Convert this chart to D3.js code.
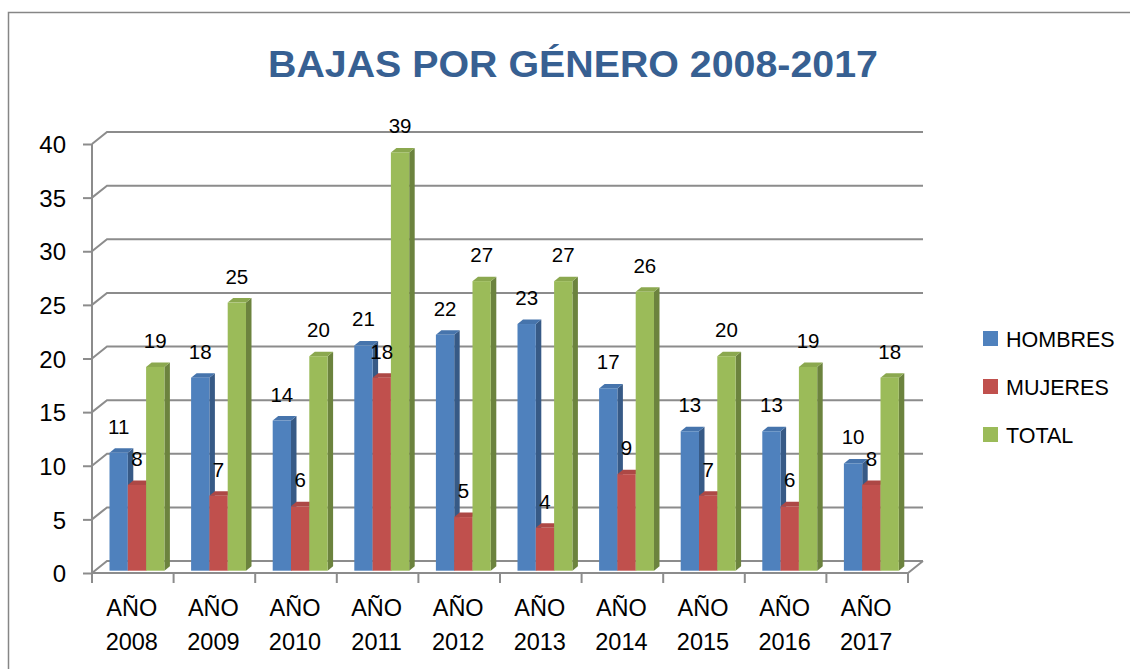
<!DOCTYPE html>
<html>
<head>
<meta charset="utf-8">
<script src="https://cdn.jsdelivr.net/npm/d3@7"></script>
<style>
  html, body { margin: 0; padding: 0; background: #fff; }
  svg { display: block; }
  text { font-family: "Liberation Sans", Arial, sans-serif; }
</style>
</head>
<body>
<svg id="chart" width="1130" height="669"></svg>
<script>
const categories = ["AÑO 2008","AÑO 2009","AÑO 2010","AÑO 2011","AÑO 2012","AÑO 2013","AÑO 2014","AÑO 2015","AÑO 2016","AÑO 2017"];
const seriesNames = ["HOMBRES","MUJERES","TOTAL"];
const hombres = [11, 18, 14, 21, 22, 23, 17, 13, 13, 10];
const mujeres = [8, 7, 6, 18, 5, 4, 9, 7, 6, 8];
const total   = [19, 25, 20, 39, 27, 27, 26, 20, 19, 18];
const yTicks  = [0, 5, 10, 15, 20, 25, 30, 35, 40];
const title   = "BAJAS POR GÉNERO 2008-2017";

const seriesValues = [hombres, mujeres, total];
const colors = {
  front: ["#4F81BD", "#C0504D", "#9BBB59"],
  top:   ["#4674AC", "#AD4845", "#8BA84F"],
  side:  ["#375A86", "#863836", "#6C833E"]
};

const svg = d3.select("#chart");

// chart border
svg.append("rect")
  .attr("x", 8.5).attr("y", 12.5).attr("width", 1140).attr("height", 700)
  .attr("fill", "none").attr("stroke", "#868686").attr("stroke-width", 1.5);

// title
svg.append("text")
  .attr("x", 573).attr("y", 77)
  .attr("text-anchor", "middle")
  .attr("font-size", 37).attr("font-weight", "bold")
  .attr("fill", "#376092")
  .attr("textLength", 610).attr("lengthAdjust", "spacingAndGlyphs")
  .text(title);

// 3D geometry
const depthX = 15, depthY = -12;          // wall depth
const x = d3.scaleBand().domain(categories).range([92, 908]).padding(0);
const y = d3.scaleLinear().domain([0, 40]).range([573, 144]);
const inner = d3.scaleBand().domain(seriesNames).range([17.5, 17.5 + 3 * 18.3]).padding(0);
const barOffY = -2.3;
const bdx = 5.5, bdy = -4.5;

const grid = svg.append("g").attr("stroke", "#8C8C8C").attr("stroke-width", 2).attr("fill", "none");

yTicks.forEach(t => {
  const yf = y(t), yb = y(t) + depthY;
  grid.append("path").attr("d", `M${x.range()[0]},${yf}L${x.range()[0] + depthX},${yb}L${x.range()[1] + depthX},${yb}`);
});
grid.append("path").attr("d", `M${x.range()[0]},${y(0)}L${x.range()[1]},${y(0)}L${x.range()[1] + depthX},${y(0) + depthY}`);

const yAxis = svg.append("g")
  .attr("transform", `translate(${x.range()[0]},0)`)
  .call(d3.axisLeft(y).tickValues(yTicks).tickSize(9).tickPadding(17).tickFormat(d3.format("d")));
yAxis.select(".domain").attr("stroke", "#8C8C8C").attr("stroke-width", 2).attr("d", `M0,${y(40)}V${y(0)}`);
yAxis.selectAll(".tick line").attr("stroke", "#8C8C8C").attr("stroke-width", 2);
yAxis.selectAll(".tick text")
  .attr("font-family", "Liberation Sans, Arial, sans-serif")
  .attr("font-size", 24).attr("fill", "#000").attr("dy", "0.36em");

const tickXs = categories.map(c => x(c)).concat([x.range()[1]]);
svg.append("g").selectAll("line").data(tickXs).join("line")
  .attr("x1", d => d).attr("x2", d => d)
  .attr("y1", y(0)).attr("y2", y(0) + 10)
  .attr("stroke", "#8C8C8C").attr("stroke-width", 2);

const catG = svg.append("g");
categories.forEach(c => {
  const parts = c.split(" ");
  const cx = x(c) + x.bandwidth() / 2 - 1;
  const t = catG.append("text")
    .attr("text-anchor", "middle")
    .attr("font-size", 23.5).attr("fill", "#000");
  t.append("tspan").attr("x", cx).attr("y", 616).text(parts[0]);
  t.append("tspan").attr("x", cx).attr("y", 650).text(parts[1]);
});

const barsG = svg.append("g");
const labelData = [];
categories.forEach((c, ci) => {
  seriesNames.forEach((s, si) => {
    const v = seriesValues[si][ci];
    const x0 = x(c) + inner(s), w = inner.bandwidth();
    const yTop = y(v) + barOffY, yBase = y(0) + barOffY;
    const g = barsG.append("g");
    g.append("path")
      .attr("d", `M${x0 + w},${yBase}L${x0 + w + bdx},${yBase + bdy}L${x0 + w + bdx},${yTop + bdy}L${x0 + w},${yTop}Z`)
      .attr("fill", colors.side[si]);
    g.append("path")
      .attr("d", `M${x0},${yTop}L${x0 + bdx},${yTop + bdy}L${x0 + w + bdx},${yTop + bdy}L${x0 + w},${yTop}Z`)
      .attr("fill", colors.top[si]);
    g.append("rect")
      .attr("x", x0).attr("y", yTop).attr("width", w).attr("height", yBase - yTop)
      .attr("fill", colors.front[si]);
    labelData.push({ x: x0 + w / 2, y: yTop - 19, v });
  });
});

svg.append("g").selectAll("text").data(labelData).join("text")
  .attr("x", d => d.x).attr("y", d => d.y)
  .attr("text-anchor", "middle")
  .attr("font-size", 20.5).attr("fill", "#000")
  .text(d => d.v);

const legend = svg.append("g");
seriesNames.forEach((s, i) => {
  const ly = 331 + i * 48;
  legend.append("rect").attr("x", 983).attr("y", ly).attr("width", 15).attr("height", 15).attr("fill", colors.front[i]);
  legend.append("text").attr("x", 1006).attr("y", ly + 15.5).attr("font-size", 21.5).attr("fill", "#000").text(s);
});
</script>
</body>
</html>
